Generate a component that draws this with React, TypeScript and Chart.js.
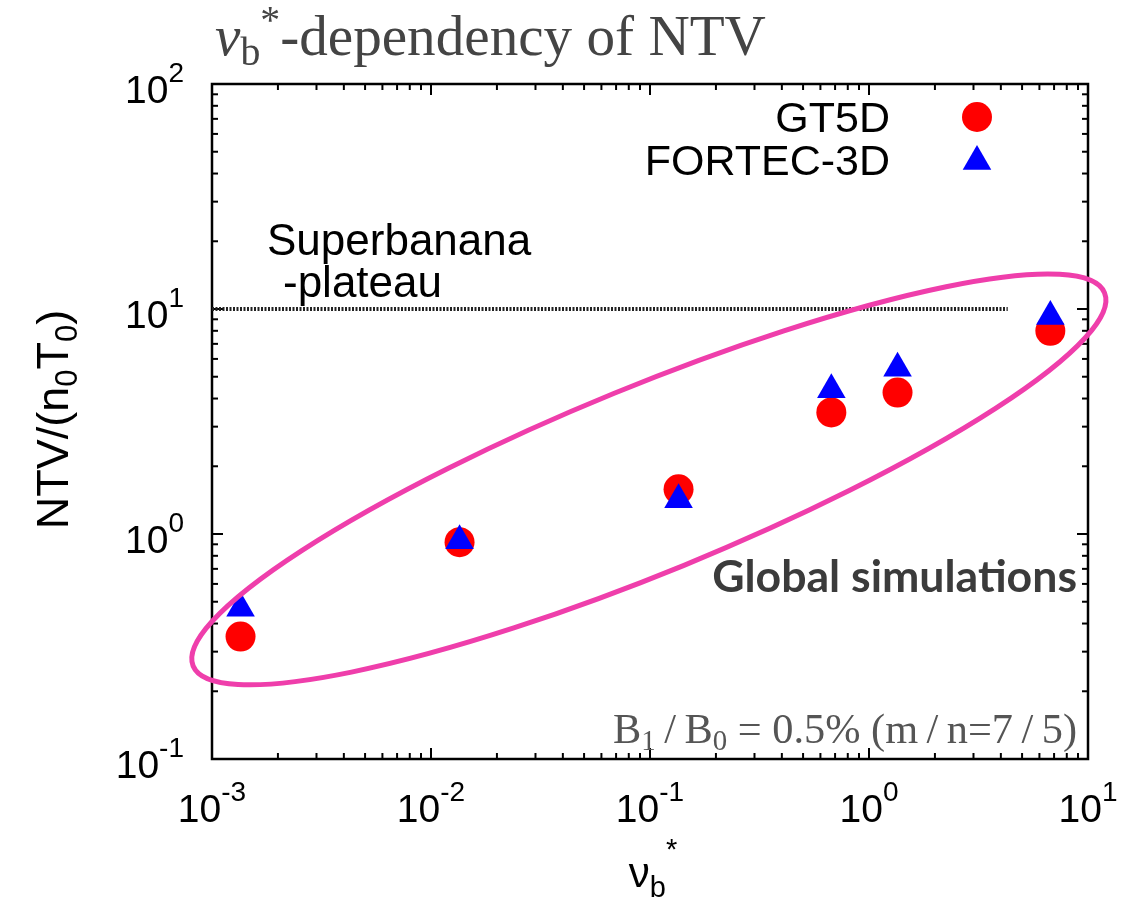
import React, { useEffect, useRef } from 'react';
import { Chart, registerables } from 'chart.js';

Chart.register(...registerables);

// ---- data ----
const nuValues = [0.00135, 0.0135, 0.135, 0.673, 1.35, 6.73];
const gt5dValues = [0.35, 0.92, 1.58, 3.47, 4.25, 8.0];
const fortecValues = [0.468, 0.933, 1.42, 4.38, 5.46, 9.27];
const plateauLevel = 10;
const plateauRange = [0.001, 4.3];
const xTickDecades = [-3, -2, -1, 0, 1];
const yTickDecades = [-1, 0, 1, 2];
const xTickLabels = ['-3', '-2', '-1', '0', '1'];
const yTickLabels = ['-1', '0', '1', '2'];
const seriesNames = ['GT5D', 'FORTEC-3D'];
const ellipseEnds = [
  [8.2e-4, 0.259],
  [11.9, 11.8],
];
const ellipseRatio = 0.1885;

type Run = { t: string; size: number; family: string; weight?: string; style?: string; dy?: number };

const SANS = '"Liberation Sans", Arial, sans-serif';
const SERIF = '"Liberation Serif", "Times New Roman", serif';

function fontOf(r: Run, s: number) {
  return `${r.style || 'normal'} ${r.weight || 'normal'} ${r.size * s}px ${r.family}`;
}
function runsWidth(ctx: CanvasRenderingContext2D, runs: Run[], s = 1) {
  let w = 0;
  for (const r of runs) {
    ctx.font = fontOf(r, s);
    w += ctx.measureText(r.t).width;
  }
  return w;
}
function drawRuns(
  ctx: CanvasRenderingContext2D,
  runs: Run[],
  x: number,
  y: number,
  align: 'left' | 'right' | 'center',
  s = 1
) {
  const w = runsWidth(ctx, runs, s);
  let cx = align === 'left' ? x : align === 'right' ? x - w : x - w / 2;
  ctx.textAlign = 'left';
  ctx.textBaseline = 'alphabetic';
  for (const r of runs) {
    ctx.font = fontOf(r, s);
    ctx.fillText(r.t, cx, y + (r.dy || 0) * s);
    cx += ctx.measureText(r.t).width;
  }
}
function fitScale(ctx: CanvasRenderingContext2D, runs: Run[], target: number) {
  return target / runsWidth(ctx, runs, 1);
}

const decorPlugin = {
  id: 'gnuplotDecor',
  beforeDatasetsDraw(chart: any) {
    const { ctx, chartArea: a, scales } = chart;
    const xs = scales.x;
    const ys = scales.y;
    ctx.save();
    ctx.strokeStyle = '#000';
    ctx.lineWidth = 2;
    const majorLen = 11;
    const minorLen = 6;
    const seg = (x1: number, y1: number, x2: number, y2: number) => {
      ctx.beginPath();
      ctx.moveTo(x1, y1);
      ctx.lineTo(x2, y2);
      ctx.stroke();
    };
    for (const d of xTickDecades) {
      for (let m = 1; m <= 9; m++) {
        const v = m * Math.pow(10, d);
        if (v > xs.max * 1.0001) break;
        const px = xs.getPixelForValue(v);
        const len = m === 1 ? majorLen : minorLen;
        seg(px, a.bottom, px, a.bottom - len);
        seg(px, a.top, px, a.top + len);
      }
    }
    for (const d of yTickDecades) {
      for (let m = 1; m <= 9; m++) {
        const v = m * Math.pow(10, d);
        if (v > ys.max * 1.0001) break;
        const py = ys.getPixelForValue(v);
        const len = m === 1 ? majorLen : minorLen;
        seg(a.left, py, a.left + len, py);
        seg(a.right, py, a.right - len, py);
      }
    }
    ctx.lineWidth = 2.5;
    ctx.strokeRect(a.left, a.top, a.right - a.left, a.bottom - a.top);
    ctx.restore();
  },
  afterDatasetsDraw(chart: any) {
    const { ctx, scales } = chart;
    const xs = scales.x;
    const ys = scales.y;
    const x1 = xs.getPixelForValue(ellipseEnds[0][0]);
    const y1 = ys.getPixelForValue(ellipseEnds[0][1]);
    const x2 = xs.getPixelForValue(ellipseEnds[1][0]);
    const y2 = ys.getPixelForValue(ellipseEnds[1][1]);
    const cx = (x1 + x2) / 2;
    const cy = (y1 + y2) / 2;
    const ra = Math.hypot(x2 - x1, y2 - y1) / 2;
    const ang = Math.atan2(y2 - y1, x2 - x1);
    ctx.save();
    ctx.strokeStyle = '#EF3EAB';
    ctx.lineWidth = 5;
    ctx.beginPath();
    ctx.ellipse(cx, cy, ra, ra * ellipseRatio, ang, 0, Math.PI * 2);
    ctx.stroke();
    ctx.restore();
  },
  afterDraw(chart: any) {
    const { ctx, chartArea: a, scales } = chart;
    const xs = scales.x;
    const ys = scales.y;
    ctx.save();
    ctx.fillStyle = '#000';

    // tick labels
    xTickDecades.forEach((d, i) => {
      const px = xs.getPixelForValue(Math.pow(10, d));
      const runs: Run[] = [
        { t: '10', size: 39, family: SANS },
        { t: xTickLabels[i], size: 28, family: SANS, dy: -21 },
      ];
      drawRuns(ctx, runs, px, a.bottom + 63, 'center');
    });
    yTickDecades.forEach((d, i) => {
      const py = ys.getPixelForValue(Math.pow(10, d));
      const runs: Run[] = [
        { t: '10', size: 39, family: SANS },
        { t: yTickLabels[i], size: 28, family: SANS, dy: -21 },
      ];
      drawRuns(ctx, runs, a.left - 28, py + 19, 'right');
    });

    // x axis title
    const xt: Run[] = [
      { t: 'ν', size: 42, family: SANS },
      { t: 'b', size: 29, family: SANS, dy: 10 },
      { t: '*', size: 29, family: SANS, dy: -28 },
    ];
    drawRuns(ctx, xt, (a.left + a.right) / 2 + 3, a.bottom + 128, 'center');

    // y axis title
    ctx.save();
    ctx.translate(68, (a.top + a.bottom) / 2 - 2);
    ctx.rotate(-Math.PI / 2);
    const yt: Run[] = [
      { t: 'NTV/(n', size: 45, family: SANS },
      { t: '0', size: 31, family: SANS, dy: 9 },
      { t: 'T', size: 45, family: SANS },
      { t: '0', size: 31, family: SANS, dy: 9 },
      { t: ')', size: 45, family: SANS },
    ];
    drawRuns(ctx, yt, 0, 0, 'center');
    ctx.restore();

    // title
    ctx.fillStyle = '#444';
    const title: Run[] = [
      { t: 'ν', size: 46, family: SERIF, style: 'italic' },
      { t: 'b', size: 32, family: SERIF, dy: 8 },
      { t: '*', size: 32, family: SERIF, dy: -18 },
      { t: '-dependency of NTV', size: 46, family: SERIF },
    ];
    drawRuns(ctx, title, 215, 55, 'left', fitScale(ctx, title, 551));

    // legend
    ctx.fillStyle = '#000';
    const legX = a.right - 198;
    const markX = a.right - 111;
    ctx.font = `43px ${SANS}`;
    ctx.textAlign = 'right';
    ctx.textBaseline = 'alphabetic';
    ctx.fillText(seriesNames[0], legX, a.top + 48);
    ctx.fillText(seriesNames[1], legX, a.top + 91);
    ctx.fillStyle = '#FF0000';
    ctx.beginPath();
    ctx.arc(markX, a.top + 33, 15, 0, Math.PI * 2);
    ctx.fill();
    ctx.fillStyle = '#0000FF';
    const tr = 16.5;
    const tcy = a.top + 77.5;
    ctx.beginPath();
    ctx.moveTo(markX, tcy - tr);
    ctx.lineTo(markX + tr * Math.sin((2 * Math.PI) / 3), tcy + tr / 2);
    ctx.lineTo(markX - tr * Math.sin((2 * Math.PI) / 3), tcy + tr / 2);
    ctx.closePath();
    ctx.fill();

    // superbanana label
    ctx.fillStyle = '#000';
    ctx.textAlign = 'left';
    ctx.font = `44px ${SANS}`;
    ctx.fillText('Superbanana', a.left + 55, a.top + 171);
    ctx.fillText('-plateau', a.left + 71, a.top + 213);

    // Global simulations
    ctx.fillStyle = '#3b3b3b';
    const gs: Run[] = [{ t: 'Global simulations', size: 40, family: 'Lato, "Open Sans", sans-serif', weight: 'bold' }];
    drawRuns(ctx, gs, a.right - 11, a.top + 508, 'right', fitScale(ctx, gs, 365));

    // B1/B0 annotation
    ctx.fillStyle = '#555';
    const bb: Run[] = [
      { t: 'B', size: 44, family: SERIF },
      { t: '1', size: 30, family: SERIF, dy: 7 },
      { t: '\u2009/\u2009B', size: 44, family: SERIF },
      { t: '0', size: 30, family: SERIF, dy: 7 },
      { t: ' = 0.5% (m\u2009/\u2009n=7\u2009/\u20095)', size: 44, family: SERIF },
    ];
    drawRuns(ctx, bb, a.right - 11, a.bottom - 16, 'right', fitScale(ctx, bb, 464));

    ctx.restore();
  },
};

export default function App() {
  const ref = useRef<HTMLCanvasElement | null>(null);
  useEffect(() => {
    document.body.style.margin = '0';
    if (!ref.current) return;
    const chart = new Chart(ref.current, {
      type: 'scatter',
      data: {
        datasets: [
          {
            label: seriesNames[1],
            data: nuValues.map((x, i) => ({ x, y: fortecValues[i] })),
            pointStyle: 'triangle',
            pointRadius: 16.5,
            pointBackgroundColor: '#0000FF',
            pointBorderWidth: 0,
            borderWidth: 0,
          },
          {
            label: seriesNames[0],
            data: nuValues.map((x, i) => ({ x, y: gt5dValues[i] })),
            pointStyle: 'circle',
            pointRadius: 15,
            pointBackgroundColor: '#FF0000',
            pointBorderWidth: 0,
            borderWidth: 0,
          },
          {
            label: 'Superbanana-plateau',
            data: plateauRange.map((x) => ({ x, y: plateauLevel })),
            showLine: true,
            pointRadius: 0,
            borderColor: '#222',
            borderWidth: 4,
            borderDash: [2, 1.5],
          } as any,
        ],
      },
      options: {
        responsive: false,
        animation: false,
        devicePixelRatio: 1,
        layout: { padding: { left: 212, top: 84, right: 35, bottom: 142 } },
        plugins: { legend: { display: false }, title: { display: false }, tooltip: { enabled: false } },
        scales: {
          x: { type: 'logarithmic', min: 1e-3, max: 10, display: false },
          y: { type: 'logarithmic', min: 0.1, max: 100, display: false },
        },
      },
      plugins: [decorPlugin],
    });
    return () => chart.destroy();
  }, []);
  return (
    <div style={{ width: 1123, height: 901, background: '#fff', overflow: 'hidden' }}>
      <canvas ref={ref} width={1123} height={901} style={{ display: 'block' }} />
    </div>
  );
}
